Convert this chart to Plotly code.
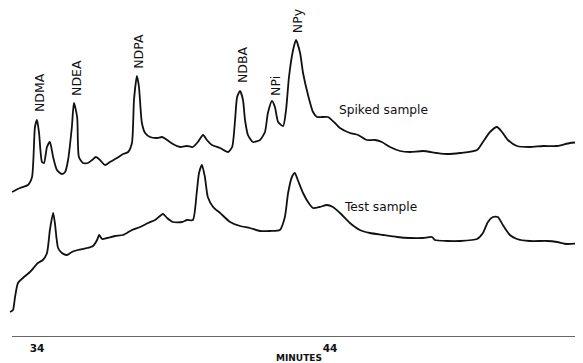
import plotly.graph_objects as go

# Retention time (minutes) and detector response (arbitrary units)
spiked_time = [33.15, 33.42, 33.69, 33.83, 33.93, 34.00, 34.07, 34.17, 34.24, 34.34,
               34.44, 34.55, 34.68, 34.85, 34.96, 35.06, 35.19, 35.26, 35.37, 35.43,
               35.57, 35.74, 35.88, 36.01, 36.15, 36.32, 36.49, 36.73, 36.94, 37.11,
               37.24, 37.31, 37.41, 37.48, 37.58, 37.69, 37.86, 38.10, 38.27, 38.44,
               38.64, 38.88, 39.12, 39.32, 39.49, 39.67, 39.80, 39.97, 40.25, 40.52,
               40.66, 40.76, 40.83, 40.93, 41.03, 41.10, 41.20, 41.37, 41.61, 41.78,
               41.88, 42.02, 42.12, 42.23, 42.40, 42.50, 42.60, 42.74, 42.84, 42.98,
               43.08, 43.25, 43.42, 43.56, 43.93, 44.17, 44.34, 44.68, 44.96, 45.26,
               45.54, 45.77, 46.05, 46.39, 46.73, 47.17, 47.65, 47.99, 48.44, 49.02,
               49.22, 49.46, 49.70, 49.87, 50.07, 50.38, 50.82, 51.27, 51.75, 52.19,
               52.60]
spiked_signal = [145, 149, 152, 160, 210, 217, 204, 175, 174, 190,
                 195, 180, 167, 163, 165, 177, 210, 234, 220, 180,
                 174, 174, 177, 180, 177, 172, 175, 179, 183, 185,
                 194, 237, 261, 250, 214, 204, 200, 199, 200, 197,
                 193, 190, 191, 190, 195, 202, 197, 192, 189, 185,
                 190, 217, 240, 246, 237, 217, 202, 195, 197, 205,
                 224, 236, 230, 215, 211, 227, 260, 287, 297, 284,
                 264, 242, 225, 220, 220, 214, 209, 204, 202, 197,
                 197, 195, 190, 186, 185, 186, 184, 183, 184, 187,
                 195, 205, 210, 205, 197, 191, 190, 191, 191, 194,
                 195]

test_time = [33.08, 33.18, 33.25, 33.35, 33.52, 33.76, 34.03, 34.20, 34.34, 34.44,
             34.55, 34.61, 34.72, 34.85, 35.02, 35.19, 35.40, 35.71, 35.91, 36.05,
             36.12, 36.22, 36.39, 36.66, 36.94, 37.24, 37.52, 37.79, 38.03, 38.30,
             38.44, 38.64, 38.95, 39.12, 39.32, 39.45, 39.53, 39.63, 39.73, 39.83,
             40.01, 40.25, 40.59, 40.93, 41.27, 41.61, 41.95, 42.29, 42.46, 42.57,
             42.70, 42.80, 42.90, 43.08, 43.25, 43.42, 43.65, 43.89, 44.10, 44.34,
             44.68, 45.02, 45.36, 45.81, 46.29, 46.73, 47.17, 47.48, 47.58, 47.99,
             48.44, 49.02, 49.22, 49.39, 49.56, 49.73, 49.90, 50.14, 50.38, 50.82,
             51.41, 51.75, 52.09, 52.60]
test_signal = [25, 27, 40, 54, 59, 65, 74, 77, 84, 107,
               124, 114, 89, 84, 82, 85, 87, 89, 91, 97,
               102, 98, 99, 101, 102, 107, 110, 114, 117, 123,
               119, 115, 115, 117, 117, 144, 164, 172, 160, 140,
               130, 124, 115, 111, 109, 106, 106, 107, 120, 144,
               160, 164, 157, 144, 135, 129, 130, 132, 130, 124,
               114, 107, 104, 102, 100, 99, 99, 100, 97, 96,
               96, 98, 104, 115, 120, 120, 112, 102, 98, 96,
               96, 95, 93, 94]

peak_labels = ["NDMA", "NDEA", "NDPA", "NDBA", "NPi", "NPy"]
peak_label_time = [34.07, 35.33, 37.44, 41.00, 42.12, 42.88]
peak_label_signal = [244, 259, 286, 272, 251, 316]

trace_names = ["Spiked sample", "Test sample"]
trace_label_time = [45.84, 45.74]
trace_label_signal = [227, 130]

tick_values = [34, 44]
tick_text = ["34", "44"]
axis_title = "MINUTES"

FONT = "DejaVu Sans"
INK = "#111111"

fig = go.Figure()
fig.add_trace(go.Scatter(x=spiked_time, y=spiked_signal, mode="lines",
                         line=dict(color=INK, width=1.8, shape="spline", smoothing=0.6),
                         hoverinfo="skip", showlegend=False))
fig.add_trace(go.Scatter(x=test_time, y=test_signal, mode="lines",
                         line=dict(color=INK, width=1.8, shape="spline", smoothing=0.6),
                         hoverinfo="skip", showlegend=False))

for lab, t, s in zip(peak_labels, peak_label_time, peak_label_signal):
    fig.add_annotation(x=t, y=s, text=lab, textangle=-90, showarrow=False,
                       font=dict(family=FONT, size=12.5, color=INK),
                       xanchor="center", yanchor="middle")

for lab, t, s in zip(trace_names, trace_label_time, trace_label_signal):
    fig.add_annotation(x=t, y=s, text=lab, showarrow=False,
                       font=dict(family=FONT, size=12.2, color=INK),
                       xanchor="center", yanchor="middle")

fig.add_annotation(x=42.94, y=-0.0638, xref="x", yref="paper", text=axis_title,
                   showarrow=False, font=dict(family=FONT, size=9, color=INK, weight="bold"),
                   xanchor="center", yanchor="middle")

# baseline of time axis
fig.add_shape(type="line", x0=33.15, x1=52.64, y0=0, y1=0, xref="x", yref="y",
              line=dict(color="#333333", width=1.6))

fig.update_layout(
    width=575, height=355,
    margin=dict(l=0, r=0, t=0, b=26),
    paper_bgcolor="white", plot_bgcolor="white",
    xaxis=dict(range=[33.010, 52.635], tickvals=tick_values, ticktext=tick_text,
               showgrid=False, zeroline=False, showline=False, ticks="",
               ticklabelstandoff=3,
               tickfont=dict(family=FONT, size=10.5, color=INK, weight="bold")),
    yaxis=dict(range=[0, 329], visible=False, showgrid=False, zeroline=False),
)

fig.write_html("out.html")
